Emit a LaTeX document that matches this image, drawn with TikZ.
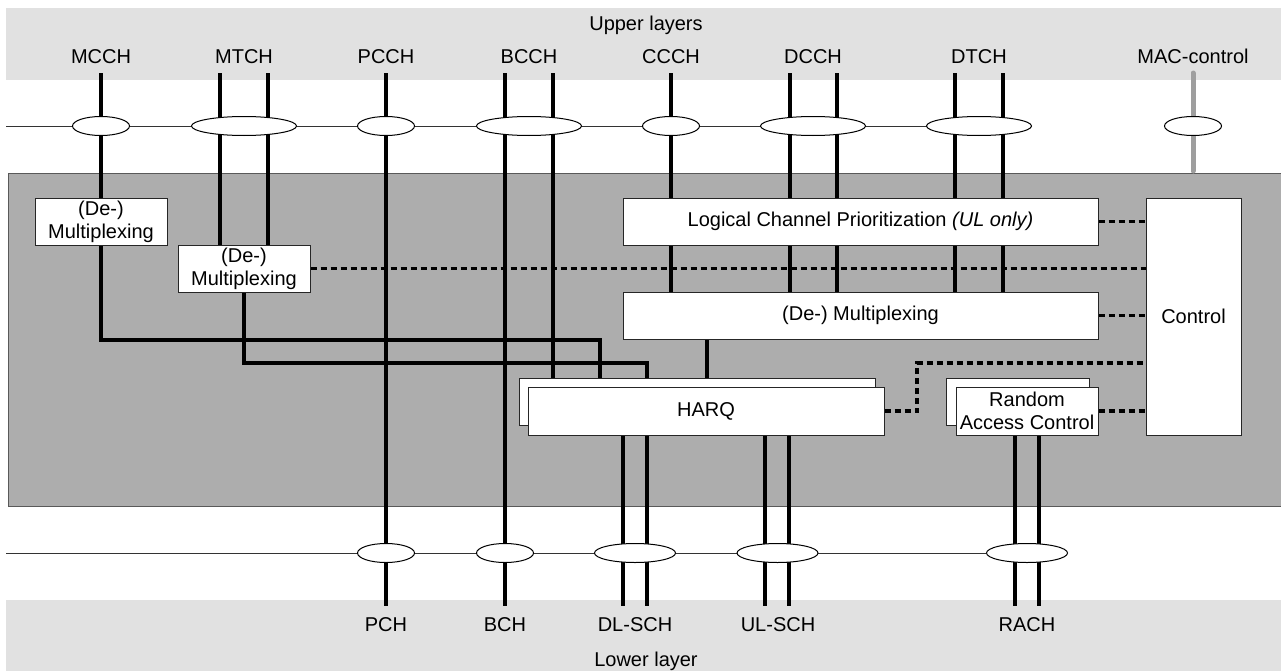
\documentclass[tikz,border=0pt]{standalone}
\usepackage{fontspec}
\setmainfont{Liberation Sans}
\usetikzlibrary{shapes.geometric}
\pgfdeclarelayer{bg}
\pgfdeclarelayer{mid}
\pgfsetlayers{bg,mid,main}
\definecolor{bandgray}{HTML}{E1E1E1}
\definecolor{maingray}{HTML}{ADADAD}
\definecolor{macgray}{HTML}{9E9E9E}
\begin{document}
\begin{tikzpicture}[x=0.75pt,y=-0.75pt,
  every node/.style={font=\fontsize{15pt}{17pt}\selectfont},
  lbl/.style={anchor=base, inner sep=0pt},
  box/.style={draw=black!85, line width=0.75pt, fill=white, inner sep=0pt, align=center},
  ell/.style={ellipse, draw=black, line width=0.75pt, fill=white, minimum height=14.25pt, inner sep=0pt},
  ellS/.style={ell, minimum width=42.75pt},
  ellW/.style={ell, minimum width=78.75pt},
  ellL/.style={ell, minimum width=60.75pt},
  ch/.style={line width=2.6pt, black},
  dot/.style={line width=2.6pt, black, dash pattern=on 4.5pt off 3pt},
  thinl/.style={line width=0.75pt, black!80}
]
\useasboundingbox (0,0) rectangle (1281,671);

\begin{pgfonlayer}{bg}
  \fill[bandgray] (6,8) rectangle (1281,80);
  \fill[bandgray] (6,600) rectangle (1281,671);
  \filldraw[fill=maingray, draw=black!65, line width=0.75pt] (8,173) rectangle (1284,506);
\end{pgfonlayer}

% labels
\node[lbl] (up) at (646,30) {Upper layers};
\node[lbl] (lMCCH) at (101,63) {MCCH};
\node[lbl] (lMTCH) at (244,63) {MTCH};
\node[lbl] (lPCCH) at (386,63) {PCCH};
\node[lbl] (lBCCH) at (529,63) {BCCH};
\node[lbl] (lCCCH) at (671,63) {CCCH};
\node[lbl] (lDCCH) at (813,63) {DCCH};
\node[lbl] (lDTCH) at (979,63) {DTCH};
\node[lbl] (lMAC) at (1193,63) {MAC-control};
\node[lbl] (lPCH) at (386,631) {PCH};
\node[lbl] (lBCH) at (505,631) {BCH};
\node[lbl] (lDL) at (635,631) {DL-SCH};
\node[lbl] (lUL) at (778,631) {UL-SCH};
\node[lbl] (lRACH) at (1027,631) {RACH};
\node[lbl] (low) at (646,666) {Lower layer};

% boxes
\node[box, minimum width=99pt, minimum height=35.25pt] (boxA) at (101,221.5) {(De-)\\Multiplexing};
\node[box, minimum width=99pt, minimum height=35.25pt] (boxB) at (244,268.5) {(De-)\\Multiplexing};
\node[box, minimum width=356.25pt, minimum height=35.25pt] (lcp) at (860.5,221.5) {Logical Channel Prioritization \textit{(UL only)}};
\node[box, minimum width=356.25pt, minimum height=35.25pt] (mux) at (860.5,315.5) {(De-) Multiplexing};
\node[box, minimum width=71.25pt, minimum height=177.75pt] (ctrl) at (1193.5,316.5) {Control};
\node[box, minimum width=267pt, minimum height=35.25pt] (harqB) at (697,401.5) {};
\node[box, minimum width=267pt, minimum height=36pt] (harqF) at (706,411) {HARQ};
\node[box, minimum width=107.25pt, minimum height=35.25pt] (racB) at (1017.5,401.5) {};
\node[box, minimum width=106.5pt, minimum height=36pt] (racF) at (1027,411) {Random\\Access Control};

% ellipses
\node[ellS] (eMCCH) at (101,126) {};
\node[ellW] (eMTCH) at (244,126) {};
\node[ellS] (ePCCH) at (386,126) {};
\node[ellW] (eBCCH) at (529,126) {};
\node[ellS] (eCCCH) at (671,126) {};
\node[ellW] (eDCCH) at (813,126) {};
\node[ellW] (eDTCH) at (979,126) {};
\node[ellS] (eMAC) at (1193,126) {};
\node[ellS] (ePCH) at (386,553) {};
\node[ellS] (eBCH) at (505,553) {};
\node[ellL] (eDL) at (635,553) {};
\node[ellL] (eUL) at (777.5,553) {};
\node[ellL] (eRACH) at (1027,553) {};

% coordinates
\coordinate (uL) at (6,126);
\coordinate (lL) at (6,553);
\coordinate (tMCCH) at (101,73);
\coordinate (tMTCH1) at (220,73);
\coordinate (tMTCH2) at (268,73);
\coordinate (tPCCH) at (386,73);
\coordinate (tBCCH1) at (505,73);
\coordinate (tBCCH2) at (553,73);
\coordinate (tCCCH) at (671,73);
\coordinate (tDCCH1) at (790,73);
\coordinate (tDCCH2) at (837,73);
\coordinate (tDTCH1) at (955,73);
\coordinate (tDTCH2) at (1003,73);
\coordinate (tMAC) at (1193,73);
\coordinate (bMAC) at (1193,171);
\coordinate (bPCH) at (386,606);
\coordinate (bBCH) at (505,606);
\coordinate (bDL1) at (623,606);
\coordinate (bDL2) at (647,606);
\coordinate (bUL1) at (765,606);
\coordinate (bUL2) at (789,606);
\coordinate (bRA1) at (1015,606);
\coordinate (bRA2) at (1039,606);
\coordinate (rM) at (600,340);
\coordinate (rT) at (647,363);
\coordinate (mx) at (707,339);
\coordinate (hq) at (917,363);

\begin{pgfonlayer}{mid}
  \draw[thinl] (uL) -- (eDTCH.east);
  \draw[thinl] (lL) -- (eRACH.west);
  % control dotted lines
  \draw[dot] (lcp.east) -- (lcp.east -| ctrl.west);
  \draw[dot] (boxB.east) -- (boxB.east -| ctrl.west);
  \draw[dot] (mux.east) -- (mux.east -| ctrl.west);
  \draw[dot] (harqF.east) -| (hq) -- (hq -| ctrl.west);
  \draw[dot] (racF.east) -- (racF.east -| ctrl.west);
  % channels
  \draw[ch] (tMCCH) -- (boxA.north);
  \draw[ch] (tMTCH1) -- (tMTCH1 |- boxB.north);
  \draw[ch] (tMTCH2) -- (tMTCH2 |- boxB.north);
  \draw[ch] (tPCCH) -- (bPCH);
  \draw[ch] (tBCCH1) -- (bBCH);
  \draw[ch] (tBCCH2) -- (tBCCH2 |- harqB.north);
  \foreach \c in {tCCCH,tDCCH1,tDCCH2,tDTCH1,tDTCH2} {
    \draw[ch] (\c) -- (\c |- lcp.north);
    \draw[ch] (\c |- lcp.south) -- (\c |- mux.north);
  }
  \draw[line width=3.75pt, macgray, line cap=round] (tMAC) -- (bMAC);
  \draw[ch] (boxA.south) |- (rM) -- (rM |- harqB.north);
  \draw[ch] (boxB.south) |- (rT) -- (rT |- harqB.north);
  \draw[ch] (mx |- mux.south) -- (mx |- harqB.north);
  \foreach \c in {bDL1,bDL2,bUL1,bUL2} {
    \draw[ch] (\c |- harqF.south) -- (\c);
  }
  \foreach \c in {bRA1,bRA2} {
    \draw[ch] (\c |- racF.south) -- (\c);
  }
\end{pgfonlayer}
\end{tikzpicture}
\end{document}
